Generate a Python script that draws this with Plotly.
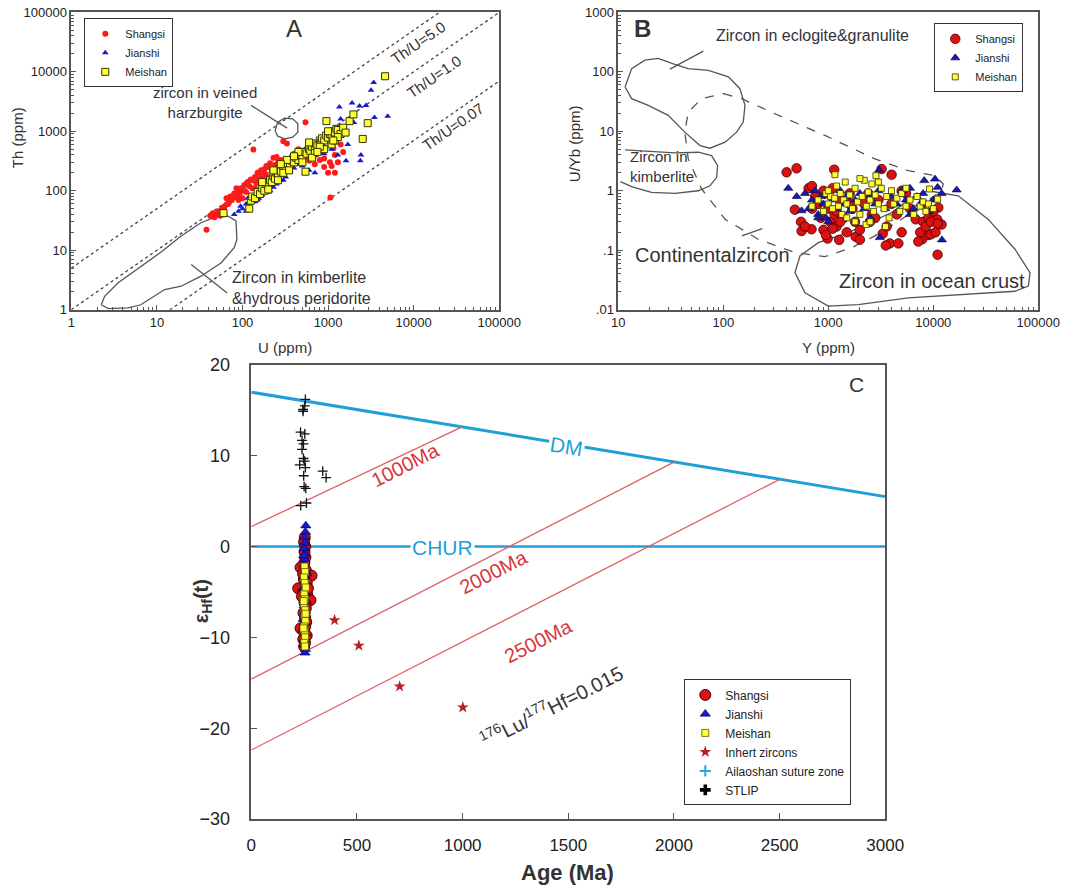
import plotly.graph_objects as go

# ---------------- Panel A : U vs Th (ppm) ----------------
shangsi_a = [(38,22),(42,38),(45,42),(47,36),(50,40),(52,45),(55,38),(58,50),(62,55),(65,75),(68,60),(72,80),
             (75,70),(80,90),(85,78),(88,95),(92,85),(96,110),(100,100),(105,125),(110,95),(115,140),(120,120),
             (125,155),(130,110),(134,493),(140,170),(145,135),(150,200),(155,150),(160,185),(165,220),(170,160),
             (180,230),(185,190),(190,260),(200,170),(210,290),(220,230),(230,360),(240,270),(250,370),(265,210),
             (280,330),(300,680),(320,300),(330,620),(350,260),(380,380),(400,420),(420,310),(450,500),(480,350),
             (520,430),(544,1420),(560,380),(600,320),(650,500),(700,280),(750,620),(800,330),(850,450),(900,250),
             (950,700),(1000,200),(1050,300),(1064,77),(1100,260),(1150,520),(1200,400),(1300,300),(1400,600),
             (1500,450),(700,400),(900,350),(1200,200),(60,52),(70,65),(90,70),(110,130),(130,150),(160,140),
             (200,250),(240,200),(280,280),(320,250),(85,110),(100,75),(140,110),(180,140),(260,300)]
jianshi_a = [(80,40),(90,45),(95,55),(100,50),(110,60),(115,75),(120,55),(125,80),(130,70),(140,65),(150,90),
             (155,75),(160,100),(170,85),(180,110),(190,95),(200,120),(210,100),(220,140),(230,115),(240,160),
             (250,130),(260,180),(280,150),(300,200),(320,170),(340,250),(360,210),(380,300),(400,240),(420,320),
             (450,280),(480,380),(500,330),(550,420),(600,380),(650,500),(700,430),(750,600),(800,500),(850,700),
             (900,560),(950,800),(1000,650),(1050,900),(1100,750),(1150,1000),(1200,850),(1300,1100),(1355,2553),
             (1400,1200),(1500,1000),(1620,320),(1700,600),(1906,2980),(2330,2650),(2770,2720),(3177,4875),
             (3412,6577),(3480,1700),(4970,1795),(2420,400),(2380,320),(600,220),(700,200),(1300,400),(1400,1600),
             (2000,1400),(110,45),(150,70),(200,95),(300,150),(500,260),(900,420),(1100,500),(170,130),(260,230)]
meishan_a = [(60,42),(120,50),(125,68),(130,80),(140,75),(150,95),(160,88),(170,110),(180,100),(190,130),(200,120),
             (210,150),(220,140),(230,175),(240,160),(250,200),(260,185),(270,230),(280,210),(300,260),(320,240),
             (340,290),(360,270),(380,320),(400,300),(420,360),(450,330),(480,400),(500,380),(520,450),(544,209),
             (560,420),(600,500),(620,460),(650,550),(700,520),(720,620),(750,580),(800,700),(820,640),(850,760),
             (900,700),(950,850),(956,1480),(1000,780),(1050,900),(1100,850),(1150,1000),(1200,950),(1250,1100),
             (1300,1050),(1400,900),(1500,1150),(1600,950),(1785,1480),(1976,1919),(2540,744),(2904,1368),
             (4630,8410),(700,430),(900,500),(1100,600),(1200,700),(650,360),(260,150),(300,200),(230,220),
             (330,330),(450,450),(600,650),(800,550),(1000,1000),(1300,800),(170,140),(200,105),(350,220),
             (500,300),(750,450),(1150,700),(400,380),(280,280)]
thu_ratios = [5.0, 1.0, 0.07]
thu_labels = ["Th/U=5.0", "Th/U=1.0", "Th/U=0.07"]
u_line_ends = [1, 100000]
kimberlite_a = [(2.24,1.21),(2.45,1.68),(3.5,2.8),(6.5,5.4),(11.3,9.4),(19.2,17.3),(32.7,29),(47,35.5),(67,37.6),
                (84,31),(86,15.2),(80,11),(56,6.1),(32.7,3.66),(19.2,2.48),(12.3,2.18),(8.6,1.57),(6.5,1.21),
                (4.6,1.07),(2.7,1.04),(2.24,1.21)]
harzburgite_a = [(240,1028),(258,1422),(309,1663),(387,1620),(443,1334),(443,964),(387,794),(309,744),(258,826),
                 (240,1028)]
harz_pointer = [(126,2723),(332,1127)]
kimb_pointer = [(25.2,5.75),(66.2,1.91)]

# ---------------- Panel B : Y vs U/Yb ----------------
shangsi_b = [(401,2.04),(499,2.38),(1140,2.26),(3221,2.32),(4010,1.86),(10990,0.084),(3860,0.13),(4650,0.13),
             (3530,0.12),(7850,0.153),(8970,0.18),(9500,0.185),(557,0.21),(693,0.225),(985,0.157),(1270,0.149),
             (1820,0.169),(11170,0.52),(12000,0.27),(10900,0.33),(480,0.48),(550,0.3),(600,0.25),(650,1.1),
             (700,1.2),(750,0.8),(800,0.6),(850,0.35),(900,0.22),(950,0.9),(1000,0.5),(1050,0.3),(1100,1.1),
             (1150,0.4),(1200,0.25),(1300,0.7),(1400,0.35),(1500,0.2),(1600,0.9),(1700,0.5),(1800,0.3),(2000,0.22),
             (2200,0.6),(2400,0.9),(2600,0.4),(2800,0.35),(3000,0.7),(3300,0.19),(3600,0.25),(4000,0.6),(4500,0.4),
             (5000,0.2),(5500,0.9),(6000,0.5),(6800,0.33),(7200,0.14),(7500,0.2),(8000,0.3),(8500,0.25),(9000,0.35),
             (9500,0.3),(10000,0.45),(10500,0.2),(11000,0.28),(1200,0.45),(2000,0.15),(700,0.5),(900,1.0),
             (1300,0.3),(2500,0.3),(1600,0.6),(5000,1.0),(8000,0.6),(950,0.18),(1100,0.23)]
jianshi_b = [(416,1.1),(16700,1.03),(8200,1.48),(10380,1.57),(12100,0.149),(3100,0.163),(557,0.46),(3050,2.23),
             (11000,1.14),(500,0.8),(600,0.9),(650,0.5),(700,0.7),(750,1.0),(800,0.4),(850,0.8),(900,0.6),
             (950,0.35),(1000,0.9),(1100,0.7),(1200,0.5),(1300,1.0),(1400,0.6),(1500,0.8),(1600,0.45),(1800,0.7),
             (2000,0.9),(2200,0.5),(2500,0.8),(2800,0.6),(3000,1.0),(3500,0.5),(4000,0.8),(4500,0.6),(5000,1.0),
             (5500,0.7),(6000,1.1),(6500,0.5),(7000,0.8),(7500,0.6),(8000,0.9),(9000,0.45),(10000,0.7),(6000,0.4),
             (2500,0.35),(1000,0.3),(800,0.35),(12000,0.9)]
meishan_b = [(1157,1.86),(2843,1.79),(11000,0.72),(9200,1.07),(2290,0.27),(700,0.55),(800,0.7),(900,0.45),
             (950,0.9),(1000,0.6),(1050,0.8),(1100,0.5),(1150,0.75),(1200,1.2),(1250,0.55),(1300,0.9),(1350,0.4),
             (1400,0.7),(1450,1.4),(1500,0.6),(1600,0.85),(1700,0.5),(1800,1.1),(1900,0.65),(2000,0.4),(2100,0.8),
             (2200,1.5),(2300,0.55),(2400,0.95),(2500,0.7),(2600,1.3),(2700,0.45),(2800,0.85),(3000,0.6),(3200,1.1),
             (3400,0.5),(3600,0.8),(3800,0.35),(4000,1.0),(4200,0.6),(4500,0.75),(4800,0.45),(5000,0.9),(5500,0.55),
             (6000,0.7),(6500,0.4),(7000,0.8),(7500,0.55),(8000,0.65),(8500,0.45),(9000,0.6),(10000,0.5),(1500,0.35),
             (2500,0.3),(3500,0.25),(1800,0.3),(2000,1.6),(3000,1.4),(1000,1.0),(5500,1.1)]
eclogite_b = [(11.6,55.6),(13.4,113),(17.9,157),(24,168),(34.6,133),(46.4,113),(72,106),(112,82),(144,52),
              (161,27.3),(155,14.3),(134,9.67),(104,6.55),(74.6,5.19),(60,5.75),(43,9.67),(29.9,18.5),(19.3,27.3),
              (13.4,35.3),(12,49),(11.6,55.6)]
kimberlite_b = [(11.6,4.86),(19.3,4.56),(34.6,4.33),(57.8,4.44),(77.4,3.9),(88.3,2.64),(86.5,1.68),(74.6,1.21),
                (57.8,1.0),(34.6,0.90),(20.7,0.94),(13.4,1.17),(10.5,1.42)]
continental_b = [(100.7,43),(150,35.3),(310,19.7),(929,8.5),(2780,3.43),(5780,2.18),(10380,1.79),(12450,1.30),
                 (12000,1.0),(8340,0.635),(4990,0.332),(2780,0.174),(1667,0.110),(929,0.078),(482,0.091),
                 (215,0.153),(104,0.332),(62.2,1.07),(46.4,3.43),(43,9.67),(46.4,21),(62.2,35.3),(100.7,43)]
ocean_b = [(8950,1.0),(17300,0.82),(33400,0.33),(60000,0.104),(83400,0.042),(80400,0.025),(60000,0.0204),
           (17300,0.018),(5780,0.0158),(1932,0.0122),(1000,0.0115),(600,0.0192),(482,0.042),(537,0.08),
           (803,0.134),(1549,0.198),(4010,0.43),(6680,0.82),(8950,1.0)]
eclogite_pointer = [(31,111),(64.6,223)]
continental_pointer = [(150,0.174),(235,0.231)]

# ---------------- Panel C : Age vs eHf(t) ----------------
shangsi_c = [(253,1.0),(250,0.5),(255,0.0),(252,-0.6),(256,-1.2),(251,-1.8),(233,-2.3),(258,-2.6),(285,-3.2),
             (249,-3.6),(262,-4.0),(222,-4.6),(245,-5.0),(265,-5.3),(280,-5.9),(252,-6.2),(258,-6.8),(247,-7.3),
             (255,-7.8),(260,-8.3),(233,-9.0),(250,-9.4),(262,-9.8),(246,-10.2),(254,-10.6),(250,-11.0),
             (240,-5.5),(268,-4.6),(245,-3.0),(255,-8.8)]
jianshi_c = [(258,2.3),(256,1.6),(252,1.0),(254,0.4),(250,-0.2),(256,-0.8),(253,-1.4),(250,-2.0),(257,-2.7),
             (252,-3.3),(255,-4.0),(249,-4.6),(256,-5.2),(253,-5.9),(250,-6.5),(257,-7.1),(252,-7.8),(255,-8.4),
             (249,-9.0),(256,-9.6),(253,-10.2),(250,-10.8),(256,-11.3),(254,-11.7),(260,-6.0),(246,-8.0),
             (262,-3.0),(248,-1.0)]
meishan_c = [(252,-2.2),(255,-2.8),(250,-3.4),(253,-4.0),(256,-4.6),(251,-5.2),(254,-5.8),(250,-6.4),(255,-7.0),
             (252,-7.6),(256,-8.2),(250,-8.8),(253,-9.4),(255,-10.0),(251,-10.6),(254,-11.0),(248,-6.0),
             (258,-4.5),(247,-9.0),(257,-7.4)]
inherited_c = [(394,-8.1),(509,-10.9),(702,-15.4),(1001,-17.7)]
stlip_c = [(256,16.2),(253,15.5),(245,15.1),(245,14.9),(233,12.6),(253,12.4),(240,11.7),(247,11.3),(240,10.7),
           (247,9.7),(253,9.4),(229,9.0),(256,8.7),(248,7.8),(250,6.6),(258,6.4),(234,4.5),(261,4.8),(338,8.3),
           (354,7.6)]
dm_age = [0, 3000]
dm_eps = [17.0, 5.5]
chur_age = [0, 3000]
chur_eps = [0, 0]
crust_lines = {"1000Ma": ([0, 1000], [2.2, 13.2]),
               "2000Ma": ([0, 2000], [-14.6, 9.3]),
               "2500Ma": ([0, 2500], [-22.4, 7.4])}


def xs(pairs):
    return [p[0] for p in pairs]


def ys(pairs):
    return [p[1] for p in pairs]


W, H = 1073, 890
# the photographed page is drawn slightly reduced and offset; layout positions below are given in
# reference-picture pixels and converted to paper fractions here
OFF_X, OFF_Y, SC = 5.7, 11.7, 0.973


def PX(p):
    return (p - OFF_X) / SC / W


def PY(p):
    return 1 - (p - OFF_Y) / SC / H


FONT = "Liberation Sans, Arial, sans-serif"
NARROW = "Liberation Sans Narrow, Arial Narrow, Liberation Sans, Arial, sans-serif"
AX = "#555555"
OUT = "#555555"
BLUE_LINE = "#1f9fd8"
RED_LINE = "#e06066"
RED_TXT = "#d8343c"

fig = go.Figure()

# ---- Panel A traces ----
for i, r in enumerate(thu_ratios):
    fig.add_trace(go.Scatter(x=u_line_ends, y=[r * u for u in u_line_ends], mode="lines",
                             line=dict(color="#444", width=1.3, dash="dot"), showlegend=False,
                             hoverinfo="skip", xaxis="x", yaxis="y"))
for poly in (kimberlite_a, harzburgite_a, harz_pointer, kimb_pointer):
    fig.add_trace(go.Scatter(x=xs(poly), y=ys(poly), mode="lines", line=dict(color=OUT, width=1.3),
                             showlegend=False, hoverinfo="skip", xaxis="x", yaxis="y"))
fig.add_trace(go.Scatter(x=xs(shangsi_a), y=ys(shangsi_a), mode="markers", name="Shangsi",
                         marker=dict(symbol="circle", size=6, color="#ff1a1a"), xaxis="x", yaxis="y",
                         legend="legend"))
fig.add_trace(go.Scatter(x=xs(jianshi_a), y=ys(jianshi_a), mode="markers", name="Jianshi",
                         marker=dict(symbol="triangle-up", size=6, color="#1a1acc"), xaxis="x", yaxis="y",
                         legend="legend"))
fig.add_trace(go.Scatter(x=xs(meishan_a), y=ys(meishan_a), mode="markers", name="Meishan",
                         marker=dict(symbol="square", size=7, color="#ffff33", line=dict(color="#333300", width=1)),
                         xaxis="x", yaxis="y", legend="legend"))

# ---- Panel B traces ----
for poly in (eclogite_b, kimberlite_b, ocean_b, eclogite_pointer, continental_pointer):
    fig.add_trace(go.Scatter(x=xs(poly), y=ys(poly), mode="lines", line=dict(color=OUT, width=1.3),
                             showlegend=False, hoverinfo="skip", xaxis="x2", yaxis="y2"))
fig.add_trace(go.Scatter(x=xs(continental_b), y=ys(continental_b), mode="lines",
                         line=dict(color=OUT, width=1.3, dash="dash"), showlegend=False, hoverinfo="skip",
                         xaxis="x2", yaxis="y2"))
fig.add_trace(go.Scatter(x=xs(shangsi_b), y=ys(shangsi_b), mode="markers", name="Shangsi",
                         marker=dict(symbol="circle", size=9.5, color="#dd1111", line=dict(color="#400000", width=0.8)),
                         xaxis="x2", yaxis="y2", legend="legend2"))
fig.add_trace(go.Scatter(x=xs(jianshi_b), y=ys(jianshi_b), mode="markers", name="Jianshi",
                         marker=dict(symbol="triangle-up", size=8, color="#1a1aa8", line=dict(color="#000040", width=0.6)),
                         xaxis="x2", yaxis="y2", legend="legend2"))
fig.add_trace(go.Scatter(x=xs(meishan_b), y=ys(meishan_b), mode="markers", name="Meishan",
                         marker=dict(symbol="square", size=6, color="#ffff33", line=dict(color="#333300", width=0.8)),
                         xaxis="x2", yaxis="y2", legend="legend2"))

# ---- Panel C traces ----
fig.add_trace(go.Scatter(x=dm_age, y=dm_eps, mode="lines", line=dict(color=BLUE_LINE, width=3),
                         showlegend=False, hoverinfo="skip", xaxis="x3", yaxis="y3"))
fig.add_trace(go.Scatter(x=chur_age, y=chur_eps, mode="lines", line=dict(color=BLUE_LINE, width=2.5),
                         showlegend=False, hoverinfo="skip", xaxis="x3", yaxis="y3"))
for name, (ax_, ay_) in crust_lines.items():
    fig.add_trace(go.Scatter(x=ax_, y=ay_, mode="lines", line=dict(color=RED_LINE, width=1.3),
                             showlegend=False, hoverinfo="skip", xaxis="x3", yaxis="y3"))
fig.add_trace(go.Scatter(x=xs(stlip_c), y=ys(stlip_c), mode="markers", name="STLIP",
                         marker=dict(symbol="cross-thin", size=7, color="#111", line=dict(color="#111", width=1.3)),
                         xaxis="x3", yaxis="y3", showlegend=False))
fig.add_trace(go.Scatter(x=xs(shangsi_c), y=ys(shangsi_c), mode="markers", name="Shangsi",
                         marker=dict(symbol="circle", size=11, color="#dd1111", line=dict(color="#400000", width=1)),
                         xaxis="x3", yaxis="y3", legend="legend3"))
fig.add_trace(go.Scatter(x=xs(jianshi_c), y=ys(jianshi_c), mode="markers", name="Jianshi",
                         marker=dict(symbol="triangle-up", size=9, color="#1a1acc", line=dict(color="#000040", width=0.6)),
                         xaxis="x3", yaxis="y3", legend="legend3"))
fig.add_trace(go.Scatter(x=xs(meishan_c), y=ys(meishan_c), mode="markers", name="Meishan",
                         marker=dict(symbol="square", size=7, color="#ffff33", line=dict(color="#555500", width=0.8)),
                         xaxis="x3", yaxis="y3", legend="legend3"))
fig.add_trace(go.Scatter(x=xs(inherited_c), y=ys(inherited_c), mode="markers", name="Inhert zircons",
                         marker=dict(symbol="star", size=9, color="#b52025"),
                         xaxis="x3", yaxis="y3", legend="legend3"))
fig.add_trace(go.Scatter(x=[None], y=[None], mode="markers", name="Ailaoshan suture zone",
                         marker=dict(symbol="cross-thin", size=8, color="#2aa8e0", line=dict(color="#2aa8e0", width=2)),
                         xaxis="x3", yaxis="y3", legend="legend3"))
fig.add_trace(go.Scatter(x=[None], y=[None], mode="markers", name="STLIP",
                         marker=dict(symbol="cross", size=9, color="#000"),
                         xaxis="x3", yaxis="y3", legend="legend3"))


def dec_minor(lo, hi):
    return [m * 10 ** k for k in range(lo, hi) for m in range(2, 10)]


def logaxis(domain, anchor, lo, hi, ticktext):
    return dict(type="log", domain=domain, anchor=anchor, range=[lo, hi],
                tickvals=[10 ** k for k in range(lo, hi + 1)], ticktext=ticktext,
                ticks="inside", ticklen=5, tickcolor=AX, showline=True, linecolor=AX, linewidth=1.5,
                mirror=True, showgrid=False, zeroline=False,
                tickfont=dict(family=FONT, size=13, color="#222"),
                minor=dict(tickvals=dec_minor(lo, hi), ticks="inside", ticklen=3, tickcolor=AX, showgrid=False))


dom_top = [PY(310), PY(14)]
fig.update_layout(
    width=W, height=H, margin=dict(l=0, r=0, t=0, b=0),
    paper_bgcolor="white", plot_bgcolor="white",
    font=dict(family=FONT, color="#222"),
    xaxis=logaxis([PX(70), PX(498)], "y", 0, 5, ["1", "10", "100", "1000", "10000", "100000"]),
    yaxis=logaxis(dom_top, "x", 0, 5, ["1", "10", "100", "1000", "10000", "100000"]),
    xaxis2=logaxis([PX(617), PX(1037)], "y2", 1, 5, ["10", "100", "1000", "10000", "100000"]),
    yaxis2=logaxis(dom_top, "x2", -2, 3, [".01", ".1", "1", "10", "100", "1000"]),
    xaxis3=dict(domain=[PX(250), PX(884)], anchor="y3", range=[0, 3000], dtick=500, ticks="inside",
                ticklen=6, tickcolor=AX, showline=True, linecolor=AX, linewidth=1.5, mirror=True,
                showgrid=False, zeroline=False, ticklabelstandoff=10,
                tickfont=dict(family=FONT, size=17, color="#222")),
    yaxis3=dict(domain=[PY(817), PY(365)], anchor="x3", range=[-30, 20], dtick=10, ticks="inside",
                ticklen=6, tickcolor=AX, showline=True, linecolor=AX, linewidth=1.5, mirror=True,
                showgrid=False, zeroline=False, ticklabelstandoff=16,
                tickfont=dict(family=FONT, size=18, color="#222")),
    legend=dict(x=PX(83), y=PY(20), xanchor="left", yanchor="top", bgcolor="white",
                bordercolor="#333", borderwidth=1, font=dict(size=11, family=FONT), tracegroupgap=0,
                itemwidth=30),
    legend2=dict(x=PX(1022), y=PY(25), xanchor="right", yanchor="top", bgcolor="white",
                 bordercolor="#333", borderwidth=1, font=dict(size=11, family=FONT), tracegroupgap=0,
                 itemwidth=30),
    legend3=dict(x=PX(683), y=PY(678), xanchor="left", yanchor="top", bgcolor="white",
                 bordercolor="#333", borderwidth=1, font=dict(size=12, family=FONT), tracegroupgap=0,
                 itemwidth=30),
)

ann = []


def paper_text(x, y, text, size=14, color="#333", angle=0, xanchor="center", bold=False, family=FONT, bg=None):
    d = dict(x=PX(x), y=PY(y), xref="paper", yref="paper", text=("<b>%s</b>" % text) if bold else text,
             showarrow=False, font=dict(size=size, color=color, family=family), textangle=angle,
             xanchor=xanchor, yanchor="middle", align="center")
    if bg:
        d["bgcolor"] = bg
    ann.append(d)


# Panel A texts
paper_text(293, 30, "A", size=24)
paper_text(204, 104, "zircon in veined<br>harzburgite", size=15)
paper_text(229, 288, "Zircon in kimberlite<br>&hydrous peridorite", size=16, xanchor="left")
ann[-1]["align"] = "left"
for lbl, (cx, cy) in zip(thu_labels, [(417, 44), (433, 78), (452, 128)]):
    paper_text(cx, cy, lbl, size=15, angle=-34.7)
paper_text(284, 348, "U (ppm)", size=15)
paper_text(17, 139, "Th (ppm)", size=15, angle=-90)

# Panel B texts
paper_text(641, 30, "B", size=24, bold=True)
paper_text(713, 37, "Zircon in eclogite&granulite", size=16, xanchor="left")
paper_text(627, 167, "Zircon in<br>kimberlite", size=15, xanchor="left")
ann[-1]["align"] = "left"
paper_text(632, 256, "Continentalzircon", size=20, xanchor="left")
paper_text(836, 281, "Zircon in ocean crust", size=20, xanchor="left")
paper_text(827, 348, "Y (ppm)", size=15)
paper_text(574, 145, "U/Yb (ppm)", size=15, angle=-90)

# Panel C texts
paper_text(855, 384, "C", size=21)
paper_text(565, 446, "DM", size=21, color=BLUE_LINE, angle=9, bg="white")
paper_text(441, 547, "CHUR", size=21, color=BLUE_LINE, bg="white")
paper_text(404, 465, "1000Ma", size=20, color=RED_TXT, angle=-27)
paper_text(492, 571, "2000Ma", size=20, color=RED_TXT, angle=-27)
paper_text(537, 640, "2500Ma", size=20, color=RED_TXT, angle=-27)
paper_text(550, 704, "<sup>176</sup>Lu/<sup>177</sup>Hf=0.015", size=20, color="#333", angle=-27)
paper_text(566, 870, "Age (Ma)", size=22, bold=True, family=NARROW)
paper_text(201, 600, "ε<sub>Hf</sub>(t)", size=20, bold=True, angle=-90)

fig.update_layout(annotations=ann)
fig.write_html("out.html", config={"displayModeBar": False},
               post_script="document.body.style.margin='0';document.body.style.overflow='hidden';")
